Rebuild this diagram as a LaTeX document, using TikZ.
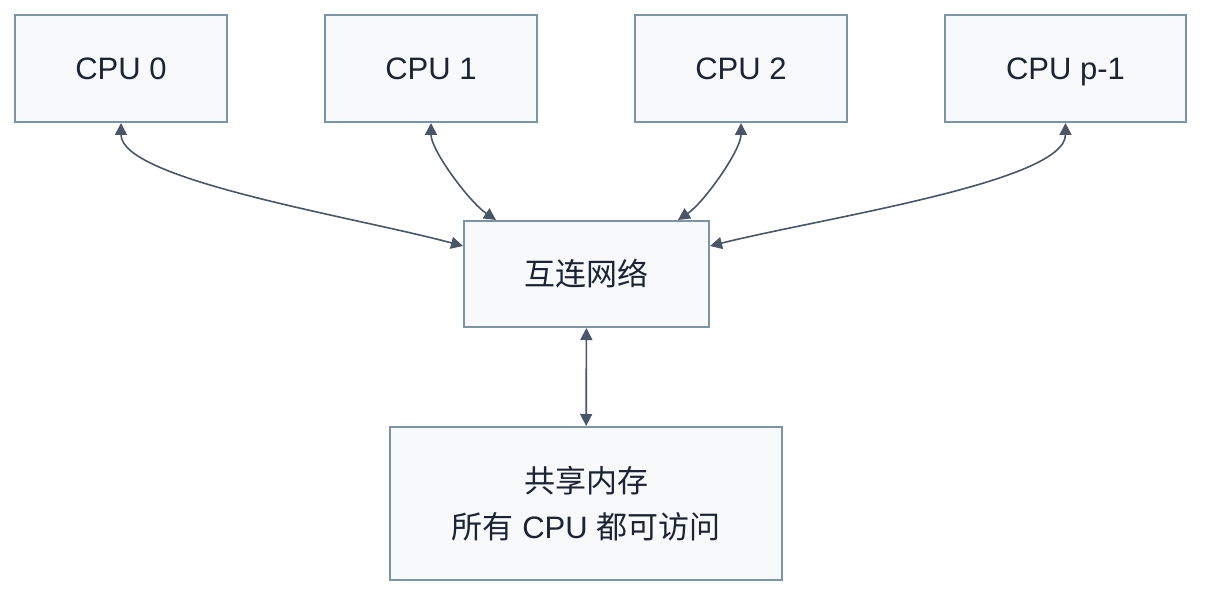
\documentclass[tikz,border=0pt]{standalone}
\usepackage{fontspec}
\setmainfont{Liberation Sans}
\newfontfamily\cjk{Noto Sans CJK SC}
\usetikzlibrary{arrows.meta,positioning}
\definecolor{ink}{HTML}{1C2333}
\definecolor{edge}{HTML}{7C95A5}
\definecolor{paper}{HTML}{F7F9FB}
\definecolor{wire}{HTML}{4A5568}

\begin{document}
\begin{tikzpicture}[
  x=1pt, y=1pt,
  font=\fontsize{31}{46}\selectfont,
  node distance=96pt,
  unit/.style={draw=edge, fill=paper, text=ink, line width=2pt,
    minimum width=212pt, minimum height=107pt,
    text height=28pt, text depth=5.6pt},
  link/.style={{Triangle[length=12pt,width=12pt]}-{Triangle[length=12pt,width=12pt]},
    draw=wire, line width=1.6pt}
]
  \useasboundingbox (0,0) rectangle (1218,-604);

  \node[unit] (cpu0) at (121,-68.5) {CPU 0};
  \node[unit, right=of cpu0] (cpu1) {CPU 1};
  \node[unit, right=of cpu1] (cpu2) {CPU 2};
  \node[unit, right=of cpu2, minimum width=241pt] (cpup) {CPU p-1};

  \node[unit, minimum width=245pt, minimum height=106pt] (net) at (586.5,-274) {\cjk 互连网络};
  \node[draw=edge, fill=paper, text=ink, line width=2pt, align=center,
    minimum width=392pt, minimum height=153pt] (mem) at (586,-503.5)
    {{\cjk 共享内存}\\{\cjk 所有} CPU {\cjk 都可访问}};

  \draw[link] (cpu0.south) to[out=-90, in=165, out looseness=0.4, in looseness=0.8] ([yshift=-26pt]net.north west);
  \draw[link] (cpu1.south) to[out=-90, in=146, out looseness=0.6, in looseness=0.7] ([xshift=33pt]net.north west);
  \draw[link] (cpu2.south) to[out=-90, in=34, out looseness=0.6, in looseness=0.7] ([xshift=-32pt]net.north east);
  \draw[link] (cpup.south) to[out=-90, in=14, out looseness=0.4, in looseness=0.8] ([yshift=-26pt]net.north east);
  \draw[link] (net) -- (mem);
\end{tikzpicture}
\end{document}
